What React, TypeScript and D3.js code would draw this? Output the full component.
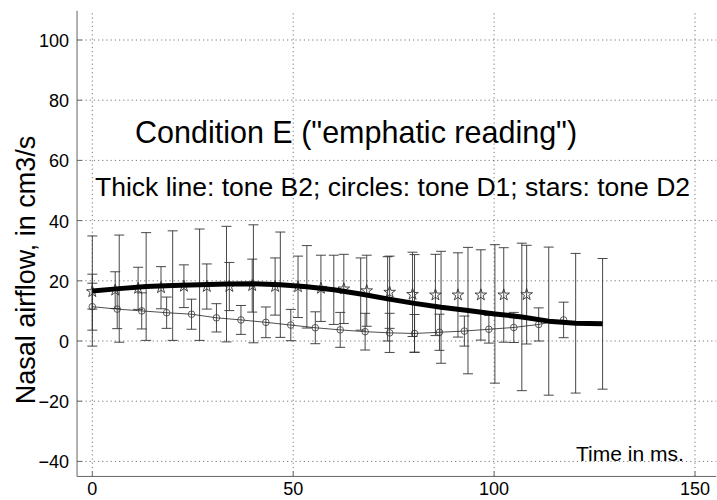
import React from "react";
import * as d3 from "d3";

// ---- data ----
const thickTimes = [0, 6.7, 13.4, 20.0, 26.7, 33.4, 40.1, 46.8, 53.4, 60.1, 66.8, 73.5, 80.2, 86.8, 93.5, 100.2, 106.9, 113.6, 120.3, 127.0];
const thickVals = [16.6, 17.4, 18.1, 18.4, 18.7, 18.9, 19.0, 18.7, 18.0, 17.0, 15.6, 14.0, 12.5, 11.2, 10.1, 9.0, 8.0, 6.6, 5.9, 5.7];
const thickErr = [18.3, 17.8, 17.9, 18.2, 18.5, 19.2, 19.6, 17.5, 13.7, 11.5, 12.0, 14.0, 16.2, 18.6, 21.0, 23.0, 24.5, 24.6, 23.2, 21.7];

const circleTimes = [0, 6.2, 12.3, 18.5, 24.7, 30.9, 37.0, 43.2, 49.4, 55.5, 61.7, 67.9, 74.0, 80.2, 86.4, 92.6, 98.7, 104.9, 111.1, 117.3];
const circleVals = [11.4, 10.6, 10.0, 9.4, 8.9, 7.7, 7.0, 6.2, 5.3, 4.4, 3.7, 3.1, 2.7, 2.5, 2.9, 3.3, 3.9, 4.5, 5.5, 7.0];
const circleErr = [7.8, 6.5, 6.0, 5.2, 5.0, 4.7, 4.8, 5.1, 5.2, 5.3, 5.8, 6.1, 6.5, 6.3, 6.0, 5.0, 4.6, 5.0, 5.5, 5.9];

const starTimes = [0, 5.7, 11.4, 17.1, 22.8, 28.5, 34.1, 39.8, 45.5, 51.2, 56.9, 62.6, 68.3, 74.0, 79.7, 85.4, 91.0, 96.7, 102.4, 108.1];
const starVals = [16.4, 16.9, 17.5, 17.7, 18.2, 18.1, 18.1, 18.4, 18.1, 18.0, 17.5, 17.3, 16.7, 16.2, 15.5, 15.3, 15.3, 15.3, 15.3, 15.4];
const starErr = [5.8, 6.1, 7.0, 7.0, 7.1, 7.5, 8.0, 8.8, 9.5, 10.2, 11.0, 11.5, 11.8, 12.0, 14.0, 13.5, 14.0, 15.0, 15.7, 16.4];

const xTicks = [0, 50, 100, 150];
const yTicks = [-40, -20, 0, 20, 40, 60, 80, 100];
const xDomain = [-3.8, 155.3];
const yDomain = [-45, 109.7];

const titleText = 'Condition E ("emphatic reading")';
const subtitleText = "Thick line: tone B2; circles: tone D1; stars: tone D2";
const xLabelText = "Time in ms.";
const yLabelText = "Nasal airflow, in cm3/s";

const FONT = "'Liberation Sans', Arial, Helvetica, sans-serif";

export default function App() {
  const x = d3.scaleLinear().domain([0, 150]).range([92.3, 695]);
  const y = d3.scaleLinear().domain([0, 100]).range([341, 40]);
  const x0 = x(xDomain[0]);
  const x1 = x(xDomain[1]);
  const y0 = y(yDomain[0]);
  const y1 = y(yDomain[1]);

  const cap = 5;
  const errBars = (times: number[], vals: number[], errs: number[], key: string) =>
    times.map((t, i) => {
      const cx = x(t);
      const top = y(vals[i] + errs[i]);
      const bot = y(vals[i] - errs[i]);
      return (
        <g key={key + i} stroke="#333" strokeWidth={0.9}>
          <line x1={cx} x2={cx} y1={top} y2={bot} />
          <line x1={cx - cap} x2={cx + cap} y1={top} y2={top} />
          <line x1={cx - cap} x2={cx + cap} y1={bot} y2={bot} />
        </g>
      );
    });

  const thickLine = d3
    .line<number>()
    .x((_, i) => x(thickTimes[i]))
    .y((d) => y(d))
    .curve(d3.curveLinear)(thickVals) as string;

  const circleLine = d3
    .line<number>()
    .x((_, i) => x(circleTimes[i]))
    .y((d) => y(d))(circleVals) as string;

  const starPath = d3.symbol().type(d3.symbolStar).size(42)() as string;

  return (
    <svg
      width={717}
      height={500}
      style={{ position: "absolute", left: 0, top: 0, background: "#fff" }}
      fontFamily={FONT}
    >
      <rect width={717} height={500} fill="#fff" />
      {/* grid */}
      <g stroke="#555" strokeWidth={0.8} strokeDasharray="1.2,3">
        {xTicks.map((t) => (
          <line key={"gx" + t} x1={x(t)} x2={x(t)} y1={y0} y2={y1} />
        ))}
        {yTicks.map((t) => (
          <line key={"gy" + t} x1={x0} x2={x1} y1={y(t)} y2={y(t)} />
        ))}
      </g>
      {/* axes */}
      <g stroke="#666" strokeWidth={1}>
        <line x1={x0} x2={x0} y1={y1} y2={y0} />
        <line x1={x0} x2={x1} y1={y0} y2={y0} />
        {xTicks.map((t) => (
          <line key={"tx" + t} x1={x(t)} x2={x(t)} y1={y0} y2={y0 - 5} />
        ))}
        {yTicks.map((t) => (
          <line key={"ty" + t} x1={x0} x2={x0 + 5} y1={y(t)} y2={y(t)} />
        ))}
      </g>
      {/* tick labels */}
      <g fontSize={18} fill="#000">
        {xTicks.map((t) => (
          <text key={"lx" + t} x={x(t)} y={495} textAnchor="middle">
            {t}
          </text>
        ))}
        {yTicks.map((t) => (
          <text key={"ly" + t} x={69} y={y(t) + 7} textAnchor="end">
            {t < 0 ? "\u2212" + Math.abs(t) : t}
          </text>
        ))}
      </g>
      {/* error bars */}
      {errBars(thickTimes, thickVals, thickErr, "eb")}
      {errBars(circleTimes, circleVals, circleErr, "ec")}
      {errBars(starTimes, starVals, starErr, "es")}
      {/* circles series */}
      <path d={circleLine} fill="none" stroke="#222" strokeWidth={0.8} />
      {circleTimes.map((t, i) => (
        <circle key={"c" + i} cx={x(t)} cy={y(circleVals[i])} r={3.3} fill="none" stroke="#333" strokeWidth={0.8} />
      ))}
      {/* stars */}
      {starTimes.map((t, i) => (
        <path
          key={"s" + i}
          d={starPath}
          transform={`translate(${x(t)},${y(starVals[i])})`}
          fill="none"
          stroke="#333"
          strokeWidth={0.9}
        />
      ))}
      {/* thick line */}
      <path d={thickLine} fill="none" stroke="#000" strokeWidth={5} strokeLinejoin="round" />
      {/* texts */}
      <text x={135} y={143} fontSize={30.5} fill="#000">
        {titleText}
      </text>
      <text x={95} y={196} fontSize={26.5} fill="#000">
        {subtitleText}
      </text>
      <text x={576} y={461} fontSize={21} fill="#000">
        {xLabelText}
      </text>
      <text
        transform={`translate(35,${270}) rotate(-90)`}
        textAnchor="middle"
        fontSize={27}
        fill="#000"
      >
        {yLabelText}
      </text>
    </svg>
  );
}
